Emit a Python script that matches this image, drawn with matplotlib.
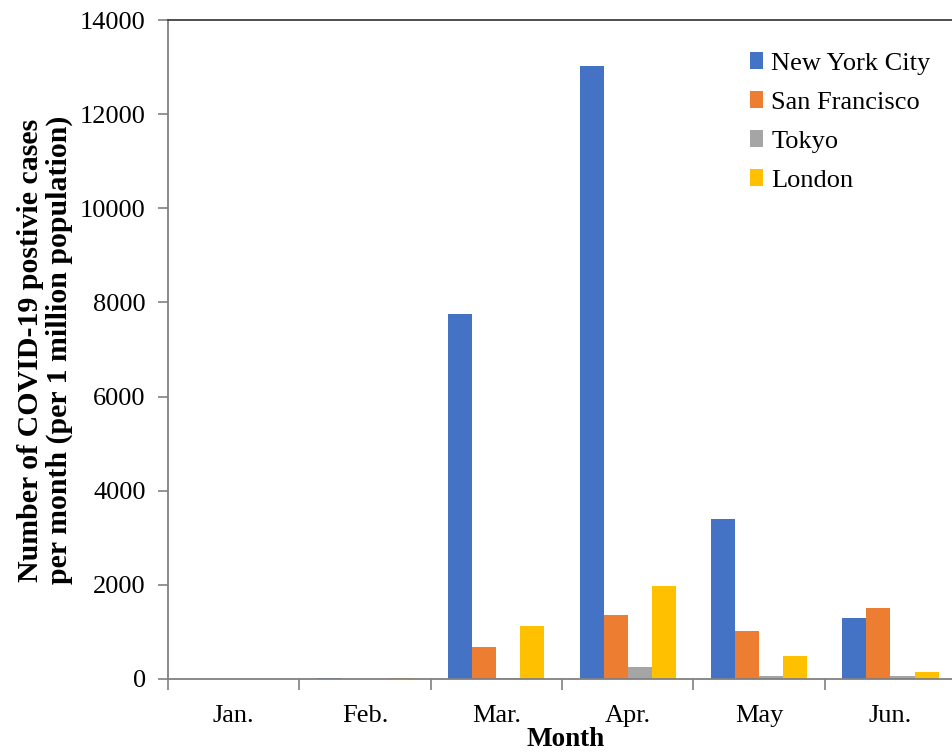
import matplotlib.pyplot as plt
import numpy as np

DPI = 100

months = ["Jan.", "Feb.", "Mar.", "Apr.", "May", "Jun."]
cities = ["New York City", "San Francisco", "Tokyo", "London"]

# Cases per month per 1 million population
nyc = [3, 20, 7750, 13020, 3400, 1300]
san_francisco = [2, 5, 670, 1350, 1010, 1510]
tokyo = [10, 10, 30, 260, 70, 70]
london = [2, 15, 1130, 1980, 490, 150]

colors = ["#4472C4", "#ED7D31", "#A5A5A5", "#FFC000"]

plt.rcParams['font.family'] = ['Liberation Serif', 'DejaVu Serif']

fig = plt.figure(figsize=(953/DPI, 753/DPI), dpi=DPI)
ax = fig.add_axes([0.1763, 0.0983, 0.8270, 0.8751])

series = [nyc, san_francisco, tokyo, london]
x = np.arange(len(months))
w = 0.183
for i, (vals, name) in enumerate(zip(series, cities)):
    ax.bar(x + (i - 1.5) * w, vals, width=w, color=colors[i], label=name)

ax.set_xlim(-0.5, len(months) - 0.5)
ax.set_ylim(0, 14000)
ax.set_yticks(np.arange(0, 14001, 2000))
ax.set_xticks(x)
ax.set_xticklabels(months)
# tick marks sit between categories, labels in the middle
ax.set_xticks(np.arange(-0.5, len(months), 1), minor=True)
ax.tick_params(axis='x', which='major', length=0, labelsize=19, pad=19)
ax.tick_params(axis='x', which='minor', length=8, color='#808080', width=1.2)
ax.tick_params(axis='y', length=7, color='#808080', width=1.2, labelsize=19, pad=9)

for s in ['left', 'bottom']:
    ax.spines[s].set_color('#808080')
    ax.spines[s].set_linewidth(1.3)
ax.spines['top'].set_color('#404040')
ax.spines['top'].set_linewidth(1.3)
ax.spines['right'].set_visible(False)

fig.text(0.047, 0.535, "Number of COVID-19 postivie cases\nper month (per 1 million population)",
         rotation=90, ha='center', va='center', fontsize=21.5, fontweight='bold',
         linespacing=1.1)
fig.text(0.593, 0.018, "Month", ha='center', va='center', fontsize=19.5, fontweight='bold')

ax.legend(loc='upper left', bbox_to_anchor=(0.776, 0.945), bbox_transform=fig.transFigure,
          frameon=False, fontsize=19, handlelength=0.5, handleheight=0.6,
          handletextpad=0.3, labelspacing=0.62, borderaxespad=0)

plt.savefig('out.png', dpi=DPI)
plt.close()
